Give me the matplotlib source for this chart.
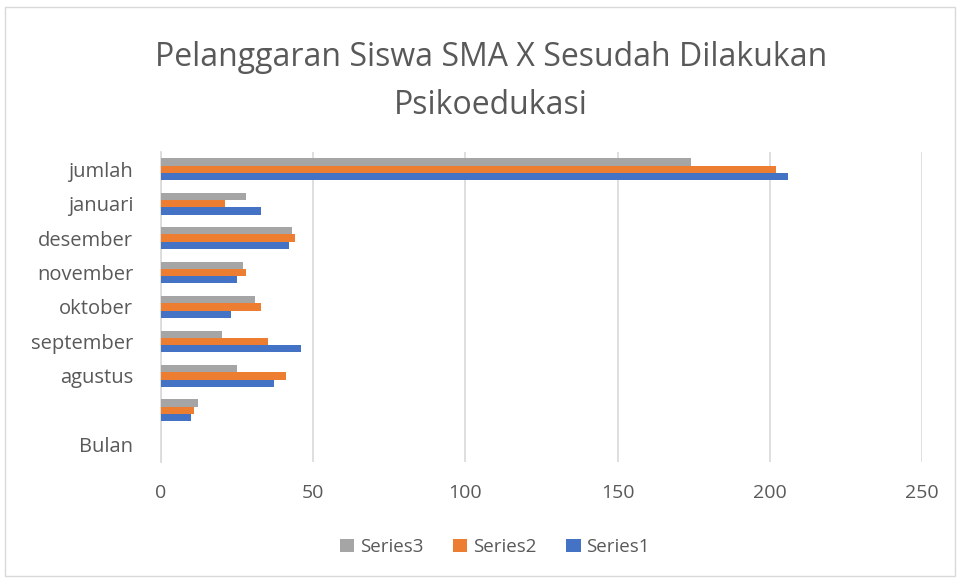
import numpy as np
import matplotlib.pyplot as plt
from matplotlib.patches import Rectangle

plt.rcParams['font.family'] = ['Open Sans', 'DejaVu Sans']

# data (bottom to top)
bulan = ['Bulan', '', 'agustus', 'september', 'oktober', 'november', 'desember', 'januari', 'jumlah']
series1 = [np.nan, 10, 37, 46, 23, 25, 42, 33, 206]
series2 = [np.nan, 11, 41, 35, 33, 28, 44, 21, 202]
series3 = [np.nan, 12, 25, 20, 31, 27, 43, 28, 174]
xticks = [0, 50, 100, 150, 200, 250]

c1 = '#4472c4'
c2 = '#ed7d31'
c3 = '#a5a5a5'
txt = '#595959'

fig = plt.figure(figsize=(9.58, 5.78), dpi=100)
ax = fig.add_axes([161/958, 1-462/578, (922-161)/958, (462-152)/578])

y = np.arange(len(bulan))
h = 0.21
ax.barh(y - h, series1, height=h, color=c1, label='Series1', zorder=3)
ax.barh(y, series2, height=h, color=c2, label='Series2', zorder=3)
ax.barh(y + h, series3, height=h, color=c3, label='Series3', zorder=3)

ax.set_xlim(0, 250)
ax.set_ylim(-0.5, len(bulan) - 0.5)
ax.set_xticks(xticks)
ax.set_yticks(y)
ax.set_yticklabels(bulan)
ax.tick_params(axis='both', length=0, colors=txt)
ax.tick_params(axis='y', pad=20, labelsize=14.5)
ax.tick_params(axis='x', pad=16, labelsize=14)
ax.grid(axis='x', color='#d9d9d9', linewidth=1.2, zorder=0)
for s in ['top', 'right', 'bottom']:
    ax.spines[s].set_visible(False)
ax.spines['left'].set_color('#d9d9d9')
ax.spines['left'].set_linewidth(1.2)

fig.text(491/958, 1-81/578, 'Pelanggaran Siswa SMA X Sesudah Dilakukan\nPsikoedukasi',
         ha='center', va='center', fontsize=23, color=txt, linespacing=1.6)

handles, labels = ax.get_legend_handles_labels()
fig.legend(handles[::-1], labels[::-1], loc='center', bbox_to_anchor=(495/958, 1-547/578),
           ncol=3, frameon=False, fontsize=13.5, labelcolor=txt, handlelength=0.75,
           handleheight=0.75, handletextpad=0.3, columnspacing=1.6)

fig.patches.append(Rectangle((5/958, 2/578), 950/958, 569/578, transform=fig.transFigure,
                             fill=False, edgecolor='#d9d9d9', linewidth=1))

fig.savefig('out.png', dpi=100)
